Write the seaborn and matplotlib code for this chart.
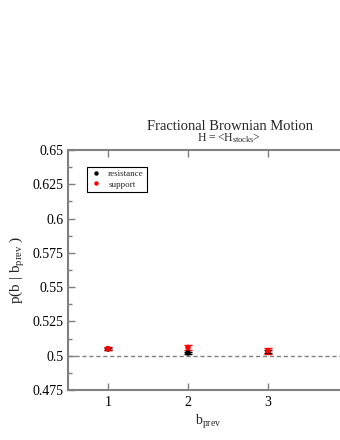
import matplotlib
matplotlib.use("Agg")
import matplotlib.pyplot as plt
import seaborn as sns
import pandas as pd
import numpy as np

b_prev = [1, 2, 3]
resistance = [0.5050, 0.5020, 0.5030]
resistance_err = [0.0008, 0.0008, 0.0010]
support = [0.5052, 0.5060, 0.5035]
support_err = [0.0008, 0.0015, 0.0020]
yticks = [0.475, 0.5, 0.525, 0.55, 0.575, 0.6, 0.625, 0.65]
ytick_labels = ["0.475", "0.5", "0.525", "0.55", "0.575", "0.6", "0.625", "0.65"]

sns.set_theme(style="ticks")
plt.rcParams['font.family'] = ['Liberation Serif', 'DejaVu Serif']
plt.rcParams['mathtext.fontset'] = 'custom'
plt.rcParams['mathtext.rm'] = 'Liberation Serif'
plt.rcParams['mathtext.it'] = 'Liberation Serif'

df = pd.DataFrame({
    "b_prev": b_prev * 2,
    "p": resistance + support,
    "err": resistance_err + support_err,
    "type": ["resistance"] * 3 + ["support"] * 3,
})

fig = plt.figure(figsize=(3.4, 4.4), dpi=100)
W, H = 340, 440
left, right, top, bottom = 68, 348, 150, 390
ax = fig.add_axes([left / W, 1 - bottom / H, (right - left) / W, (bottom - top) / H])

colors = {"resistance": "black", "support": "red"}
for t, g in df.groupby("type"):
    ax.errorbar(g["b_prev"], g["p"], yerr=g["err"], fmt="none", ecolor=colors[t],
                elinewidth=1, capsize=3, capthick=1, zorder=3)
sns.scatterplot(data=df, x="b_prev", y="p", hue="type", palette=colors, s=16,
                edgecolor="none", ax=ax, zorder=4, legend=True)

ax.axhline(0.5, color="gray", lw=1, ls=(0, (3, 2)), zorder=1)

ax.set_xlim(0.5, 4.0)
ax.set_ylim(0.475, 0.65)
ax.set_xticks(b_prev)
ax.set_xticklabels([str(v) for v in b_prev])
ax.set_yticks(yticks)
ax.set_yticklabels(ytick_labels)
ax.set_yticks(np.arange(0.4875, 0.65, 0.025), minor=True)
ax.tick_params(axis="both", which="both", direction="in", colors="gray",
               labelcolor="black", labelsize=10, top=True)
ax.tick_params(which="major", length=5, width=1)
ax.tick_params(which="minor", length=3, width=1)
ax.tick_params(axis="y", pad=3)
ax.tick_params(axis="x", pad=4)
for s in ["left", "bottom", "top"]:
    ax.spines[s].set_color("gray")
    ax.spines[s].set_linewidth(1.5)
ax.spines["right"].set_visible(False)

ax.set_xlabel(r"b$_{\rm prev}$", fontsize=10, labelpad=3)
ax.set_ylabel(r"p(b | b$_{\rm prev}$ )", fontsize=11, labelpad=4)

leg = ax.legend(loc="upper left", bbox_to_anchor=(0.05, 0.95), fontsize=6.5,
                frameon=True, fancybox=False, edgecolor="black", framealpha=1,
                markerscale=0.8, handletextpad=0.6, borderpad=0.4, labelspacing=0.2,
                handlelength=1.4)
leg.get_frame().set_linewidth(0.8)

fig.text(230 / W, 1 - 126 / H, "Fractional Brownian Motion", ha="center", va="center", fontsize=10.5)
fig.text(229 / W, 1 - 138 / H, r"H = <H$_{\rm stocks}$>", ha="center", va="center", fontsize=8.5)

fig.savefig("out.png", dpi=100)
